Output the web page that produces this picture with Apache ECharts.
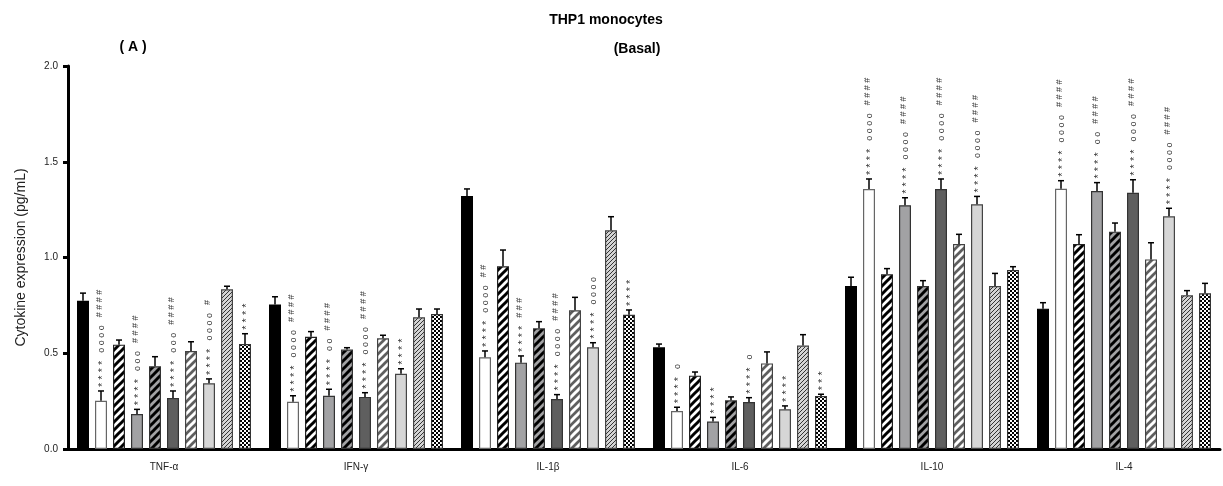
<!DOCTYPE html>
<html>
<head>
<meta charset="utf-8">
<script src="https://cdn.jsdelivr.net/npm/echarts@6/dist/echarts.min.js"></script>
<style>
html,body{margin:0;padding:0;background:#fff;}
#chart{width:1223px;height:486px;}
</style>
</head>
<body>
<div id="chart"></div>
<script>
// ---------------- DATA ----------------
const categories = ['TNF-α', 'IFN-γ', 'IL-1β', 'IL-6', 'IL-10', 'IL-4'];
const yTicks = [0, 0.5, 1.0, 1.5, 2.0];

const valBlack     = [0.774, 0.755, 1.321, 0.531, 0.851, 0.733];
const valWhite     = [0.252, 0.247, 0.479, 0.198, 1.358, 1.359];
const valBW        = [0.545, 0.586, 0.954, 0.383, 0.912, 1.070];
const valGray      = [0.183, 0.278, 0.451, 0.143, 1.273, 1.347];
const valGrayBlack = [0.432, 0.519, 0.630, 0.254, 0.851, 1.135];
const valDark      = [0.266, 0.272, 0.261, 0.245, 1.358, 1.338];
const valDarkWhite = [0.512, 0.578, 0.724, 0.447, 1.070, 0.990];
const valLight     = [0.343, 0.393, 0.531, 0.207, 1.278, 1.215];
const valHatched   = [0.834, 0.688, 1.142, 0.540, 0.851, 0.803];
const valChecker   = [0.548, 0.705, 0.701, 0.277, 0.935, 0.813];

const errBlack     = [0.040, 0.040, 0.037, 0.017, 0.046, 0.031];
const errWhite     = [0.051, 0.031, 0.033, 0.020, 0.052, 0.042];
const errBW        = [0.024, 0.027, 0.085, 0.019, 0.030, 0.049];
const errGray      = [0.024, 0.034, 0.035, 0.022, 0.039, 0.044];
const errGrayBlack = [0.050, 0.010, 0.035, 0.018, 0.028, 0.045];
const errDark      = [0.037, 0.022, 0.023, 0.023, 0.052, 0.068];
const errDarkWhite = [0.048, 0.016, 0.068, 0.060, 0.051, 0.087];
const errLight     = [0.023, 0.026, 0.024, 0.018, 0.041, 0.042];
const errHatched   = [0.016, 0.043, 0.071, 0.057, 0.066, 0.024];
const errChecker   = [0.054, 0.026, 0.025, 0.009, 0.017, 0.052];

// significance marks: stars, circles, hashes (bottom to top)
const markBlack     = ['', '', '', '', '', ''];
const markWhite     = ['****,oooo,####', '****,oooo,####', '****,oooo,##', '****,o', '****,oooo,####', '****,oooo,####'];
const markBW        = ['', '', '', '', '', ''];
const markGray      = ['****,ooo,####', '****,oo,####', '****,,###', '****', '****,oooo,####', '****,oo,####'];
const markGrayBlack = ['', '', '', '', '', ''];
const markDark      = ['****,ooo,####', '****,oooo,####', '****,oooo,####', '****,o', '****,oooo,####', '****,oooo,####'];
const markDarkWhite = ['', '', '', '', '', ''];
const markLight     = ['****,oooo,#', '****', '****,oooo', '****', '****,oooo,####', '****,oooo,####'];
const markHatched   = ['', '', '', '', '', ''];
const markChecker   = ['****', '', '****', '***', '', ''];

const seriesValues = [valBlack, valWhite, valBW, valGray, valGrayBlack, valDark, valDarkWhite, valLight, valHatched, valChecker];
const seriesErrors = [errBlack, errWhite, errBW, errGray, errGrayBlack, errDark, errDarkWhite, errLight, errHatched, errChecker];
const seriesMarks  = [markBlack, markWhite, markBW, markGray, markGrayBlack, markDark, markDarkWhite, markLight, markHatched, markChecker];

// ---------------- STYLES ----------------
const FONT = 'Liberation Sans, Arial, sans-serif';
function tile(size, draw) {
  const c = document.createElement('canvas');
  c.width = size; c.height = size;
  draw(c.getContext('2d'), size);
  return { image: c, repeat: 'repeat' };
}
function stripes(bg, fg, p, w) {
  return tile(p, (ctx, s) => {
    ctx.fillStyle = bg; ctx.fillRect(0, 0, s, s);
    ctx.strokeStyle = fg; ctx.lineWidth = w; ctx.lineCap = 'square';
    for (let k = -s; k <= s; k += s) {
      ctx.beginPath(); ctx.moveTo(k, s); ctx.lineTo(k + s, 0); ctx.stroke();
    }
  });
}
function checker(a, b, cell) {
  return tile(cell * 2, (ctx, s) => {
    ctx.fillStyle = a; ctx.fillRect(0, 0, s, s);
    ctx.fillStyle = b; ctx.fillRect(0, 0, cell, cell); ctx.fillRect(cell, cell, cell, cell);
  });
}
const fills = [
  '#000000',
  '#ffffff',
  stripes('#ffffff', '#000000', 8, 3),
  '#a2a2a4',
  stripes('#a2a2a4', '#000000', 8, 3),
  '#5f5f5f',
  stripes('#5f5f5f', '#ffffff', 8, 3),
  '#d6d6d6',
  stripes('#d4d4d4', '#333333', 4, 1),
  checker('#ffffff', '#000000', 2)
];
const borders = ['#000', '#666', '#222', '#333', '#333', '#333', '#444', '#444', '#444', '#333'];

const BAR_W = 12, BAR_GAP = 6;
const N = seriesValues.length;

const barSeries = seriesValues.map((vals, i) => ({
  type: 'bar',
  data: vals,
  barWidth: BAR_W,
  barGap: (BAR_GAP / BAR_W * 100) + '%',
  itemStyle: { color: fills[i], borderColor: borders[i], borderWidth: 1.2 },
  silent: true,
  z: 2
}));

const errData = [];
const errMarks = [];
seriesValues.forEach((vals, s) => {
  vals.forEach((v, c) => {
    errData.push([c, s, v, seriesErrors[s][c]]);
    errMarks.push(seriesMarks[s][c]);
  });
});

// mark group styles: stars, circles, hashes
const markStyle = [
  { size: 11, dx: 1.5 },
  { size: 9, dx: 0.5 },
  { size: 9, dx: -1.5 }
];
const measureCtx = document.createElement('canvas').getContext('2d');
function textWidth(t, size) {
  measureCtx.font = size + 'px ' + FONT;
  return measureCtx.measureText(t).width;
}

function renderErr(params, api) {
  const c = api.value(0), s = api.value(1), v = api.value(2), e = api.value(3);
  const p0 = api.coord([c, v]);
  const p1 = api.coord([c, v + e]);
  const x = p0[0] + (s - (N - 1) / 2) * (BAR_W + BAR_GAP);
  const children = [
    { type: 'line', shape: { x1: x, y1: p0[1], x2: x, y2: p1[1] }, style: { stroke: '#000', lineWidth: 1.5 } },
    { type: 'line', shape: { x1: x - 3, y1: p1[1], x2: x + 3, y2: p1[1] }, style: { stroke: '#000', lineWidth: 1.5 } }
  ];
  const mark = errMarks[params.dataIndex];
  if (mark) {
    let y = p1[1] - 4;
    mark.split(',').forEach((g, i) => {
      if (!g.length) return;
      const t = g.split('').join(' ');
      const st = markStyle[i];
      children.push({
        type: 'text', x: x + st.dx, y: y, rotation: Math.PI / 2,
        style: { text: t, fill: '#333', fontSize: st.size, fontFamily: FONT, align: 'left', verticalAlign: 'middle' }
      });
      y -= textWidth(t, st.size) + 8;
    });
  }
  return { type: 'group', children };
}

const chart = echarts.init(document.getElementById('chart'), null, { renderer: 'canvas' });
chart.setOption({
  animation: false,
  backgroundColor: '#fff',
  textStyle: { fontFamily: FONT },
  title: [
    { text: 'THP1 monocytes', left: 601, top: 8, textAlign: 'center', textStyle: { fontSize: 14, fontWeight: 'bold', color: '#000' } },
    { text: '(Basal)', left: 632, top: 37, textAlign: 'center', textStyle: { fontSize: 14, fontWeight: 'bold', color: '#000' } },
    { text: '( A )', left: 128, top: 35, textAlign: 'center', textStyle: { fontSize: 14, fontWeight: 'bold', color: '#000' } }
  ],
  grid: { left: 68, right: 3, top: 66, bottom: 37, containLabel: false },
  xAxis: {
    type: 'category',
    data: categories,
    axisLine: { lineStyle: { color: '#000', width: 3 } },
    axisTick: { alignWithLabel: true, length: 5, lineStyle: { color: '#000', width: 3 } },
    axisLabel: { color: '#222', fontSize: 10, margin: 13 },
    splitLine: { show: false }
  },
  yAxis: {
    type: 'value',
    min: 0, max: 2, interval: 0.5,
    name: 'Cytokine expression (pg/mL)',
    nameLocation: 'middle',
    nameGap: 40,
    nameTextStyle: { fontSize: 14, color: '#222' },
    axisLine: { show: true, lineStyle: { color: '#000', width: 3 } },
    axisTick: { show: true, length: 5, lineStyle: { color: '#000', width: 3 } },
    axisLabel: { color: '#222', fontSize: 10, margin: 10, formatter: v => yTicks.includes(v) ? v.toFixed(1) : '' },
    splitLine: { show: false }
  },
  series: barSeries.concat([{
    type: 'custom',
    renderItem: renderErr,
    data: errData,
    encode: { x: 0, y: 2 },
    z: 5,
    silent: true
  }])
});
</script>
</body>
</html>
